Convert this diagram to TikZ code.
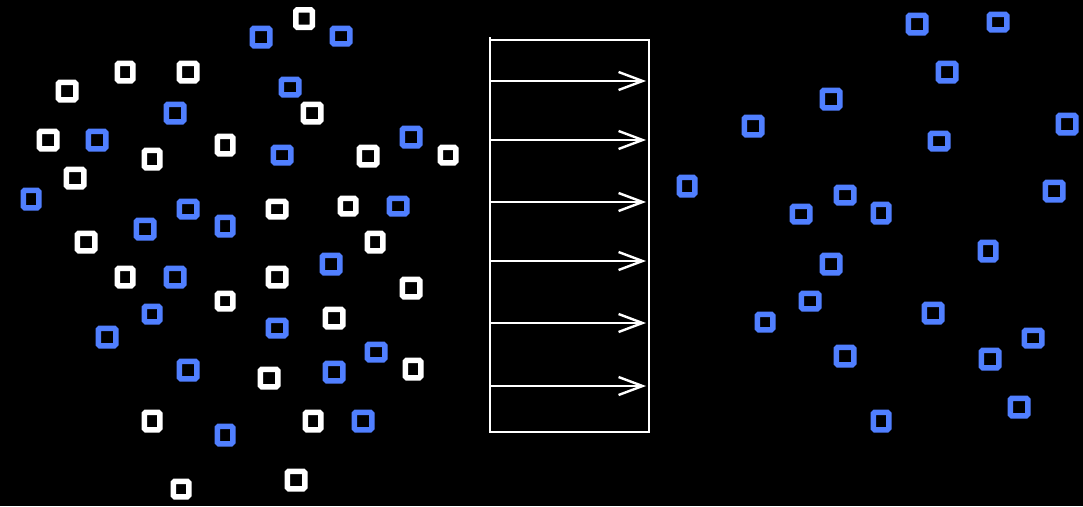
\documentclass[tikz,border=0pt]{standalone}
\usetikzlibrary{arrows.meta}
\definecolor{tileblue}{RGB}{80,127,255}
\begin{document}
\begin{tikzpicture}[x=1pt,y=-1pt,
  tile/.style={line width=5.5pt, rounded corners=1.5pt},
  wtile/.style={tile, draw=white},
  btile/.style={tile, draw=tileblue},
  frame/.style={draw=white, line width=2.4pt},
  flow/.style={draw=white, line width=2.4pt,
    -{Straight Barb[length=24pt,width=18pt,line width=2.4pt]}}]
% page and background
\fill[black] (0,0) rectangle (1083,506);
\useasboundingbox (0,0) rectangle (1083,506);
\def\lw{5.5}

% white tiles (centre x / centre y / outer width / outer height)
\foreach \cx/\cy/\w/\h in {
  304/18.5/22/23, 125/72/21/23, 188/72/23/23, 67/91/23/23,
  312/113/23/23, 48/140/23/23, 152/159/21/23, 225/145/21/23,
  368/156/23/23, 448/155/21/21, 75/178/23/23, 277/209/23/21,
  348/206/21/21, 86/242/23/23, 375/242/21/23, 125/277/21/23,
  277/277/23/23, 225/301/21/21, 411/288/23/23, 334/318/23/23,
  269/378/23/23, 413/369/21/23, 152/421/21/23, 313/421/21/23,
  181/489/21/21, 296/480/23/23}
  \draw[wtile] ({\cx-(\w-\lw)/2},{\cy-(\h-\lw)/2}) rectangle ++({\w-\lw},{\h-\lw});

% blue tiles on the left
\foreach \cx/\cy/\w/\h in {
  261/37/23/23, 341/36/23/21, 290/87/23/21, 175/113/23/23,
  97/140/23/23, 282/155/23/21, 411/137/23/23, 31/199/21/23,
  188/209/23/21, 145/229/23/23, 225/226/21/23, 398/206/23/21,
  331/264/23/23, 175/277/23/23, 152/314/21/21, 107/337/23/23,
  277/328/23/21, 376/352/23/21, 188/370/23/23, 334/372/23/23,
  225/435/21/23, 363/421/23/23}
  \draw[btile] ({\cx-(\w-\lw)/2},{\cy-(\h-\lw)/2}) rectangle ++({\w-\lw},{\h-\lw});

% blue tiles on the right
\foreach \cx/\cy/\w/\h in {
  917/24/23/23, 998/22/23/21, 947/72/23/23, 831/99/23/23,
  753/126/23/23, 939/141/23/21, 1067/124/23/23, 687/186/21/23,
  845/195/23/21, 801/214/23/21, 881/213/21/23, 1054/191/23/23,
  988/251/21/23, 831/264/23/23, 810/301/23/21, 765/322/21/21,
  933/313/23/23, 1033/338/23/21, 845/356/23/23, 990/359/23/23,
  1019/407/23/23, 881/421/21/23}
  \draw[btile] ({\cx-(\w-\lw)/2},{\cy-(\h-\lw)/2}) rectangle ++({\w-\lw},{\h-\lw});

% the frame with its flow arrows
\draw[frame] (490,40) rectangle (649,432);
\draw[frame] (490,37) -- (490,41);
\foreach \ay [count=\i] in {81,140,202,261,323,386} {
  \coordinate (s\i) at (490,\ay);
  \coordinate (e\i) at (646,\ay);
  \draw[flow] (s\i) -- (e\i);
}
\end{tikzpicture}
\end{document}
